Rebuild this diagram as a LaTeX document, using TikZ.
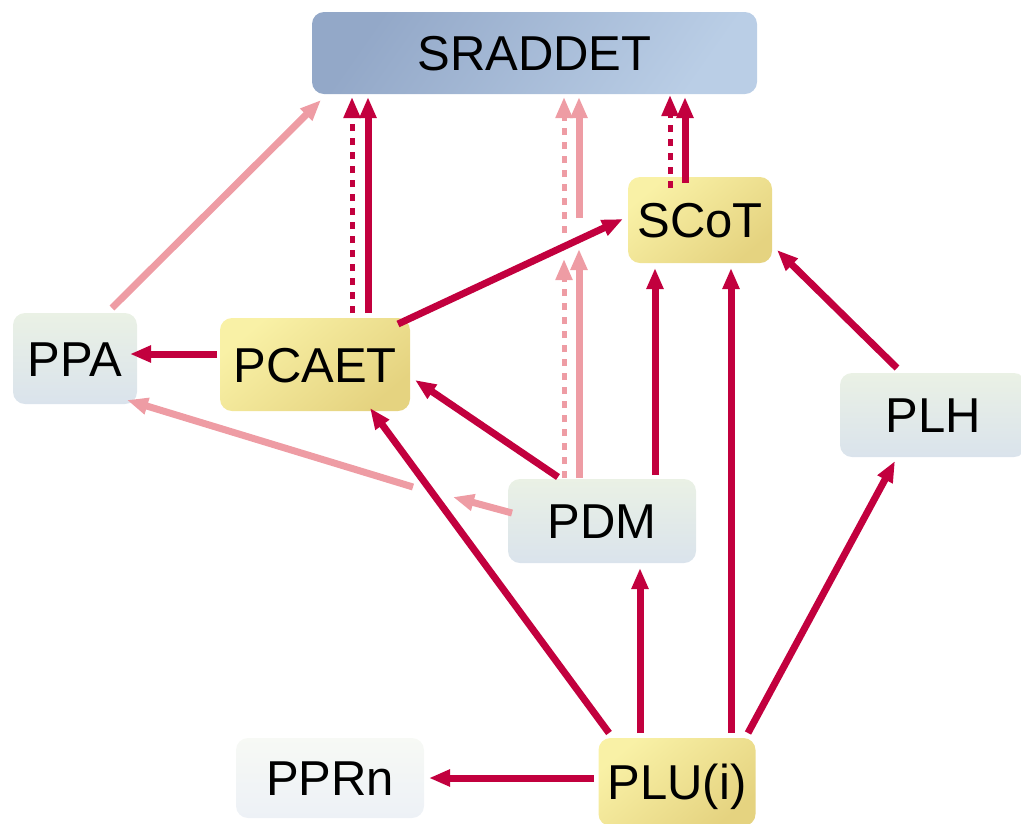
\documentclass[tikz,border=0pt]{standalone}
\usepackage{fontspec}
\setmainfont{Liberation Sans}
\usetikzlibrary{arrows.meta,calc}

\definecolor{crimson}{RGB}{194,0,62}
\definecolor{rose}{RGB}{238,156,164}
\definecolor{blueA}{RGB}{147,168,200}
\definecolor{blueB}{RGB}{186,206,230}
\definecolor{yelA}{RGB}{249,241,166}
\definecolor{yelB}{RGB}{229,211,128}
\definecolor{greyA}{RGB}{234,241,229}
\definecolor{greyB}{RGB}{218,227,236}
\definecolor{paleA}{RGB}{247,249,245}
\definecolor{paleB}{RGB}{237,241,246}

\tikzset{
  box/.style={rectangle, rounded corners=12pt, inner sep=0pt,
    font=\fontsize{49pt}{58pt}\selectfont, text height=35.5pt, text depth=0pt},
  bluebox/.style={box, top color=blueA, bottom color=blueB, shading angle=55},
  yellowbox/.style={box, top color=yelA, bottom color=yelB, shading angle=40},
  greybox/.style={box, top color=greyA, bottom color=greyB},
  palebox/.style={box, top color=paleA, bottom color=paleB},
  tip/.style={-{Triangle[length=21pt,width=16pt]}},
  link/.style={tip, draw=crimson, line width=7pt},
  linkdash/.style={tip, draw=crimson, line width=5pt, dash pattern=on 7pt off 7pt},
  soft/.style={tip, draw=rose, line width=7pt},
  softdash/.style={tip, draw=rose, line width=5pt, dash pattern=on 7pt off 7pt},
}

\begin{document}
\begin{tikzpicture}[x=1pt,y=-1pt]
  \useasboundingbox (0,0) rectangle (1021,823);
  \clip (0,0) rectangle (1021,823);

  % documents
  \node[bluebox,   minimum width=445pt, minimum height=82pt] (sraddet) at (534.5,53)  {SRADDET};
  \node[yellowbox, minimum width=144pt, minimum height=86pt] (scot)    at (700,220)   {SCoT};
  \node[greybox,   minimum width=124pt, minimum height=91pt] (ppa)     at (75,358.5)  {PPA};
  \node[yellowbox, minimum width=190pt, minimum height=93pt] (pcaet)   at (315,364.5) {PCAET};
  \node[greybox,   minimum width=186pt, minimum height=84pt] (plh)     at (933,415)   {PLH};
  \node[greybox,   minimum width=188pt, minimum height=84pt] (pdm)     at (602,521)   {PDM};
  \node[palebox,   minimum width=188pt, minimum height=80pt] (pprn)    at (330,778)   {PPRn};
  \node[yellowbox, minimum width=157pt, minimum height=88pt] (plu)     at (677,782)   {PLU(i)};

  % break points where the PDM links pass behind other links
  \coordinate (ppaGapEnd)   at (453,497);
  \coordinate (ppaGapStart) at (413,487);
  \coordinate (dashGapEnd)   at (564,259);
  \coordinate (dashGapStart) at (564,233);
  \coordinate (lineGapEnd)   at (579,249);
  \coordinate (lineGapStart) at (579,218);

  % links towards SRADDET
  \draw[soft] ([shift={(37,-50.5)}]ppa.center) -- ([shift={(-213.5,47)}]sraddet.center);
  \draw[linkdash] ([shift={(37,-51.5)}]pcaet.center) -- ([shift={(-182.5,44)}]sraddet.center);
  \draw[link] ([shift={(53,-51.5)}]pcaet.center) -- ([shift={(-166.5,44)}]sraddet.center);
  \draw[linkdash] ([shift={(-30,-32)}]scot.center) -- ([shift={(135.5,42)}]sraddet.center);
  \draw[link] ([shift={(-15,-37)}]scot.center) -- ([shift={(150.5,44)}]sraddet.center);

  % PDM towards SRADDET, interrupted
  \draw[softdash] ([shift={(-38,-43)}]pdm.center) -- (dashGapEnd);
  \draw[softdash] (dashGapStart) -- ([shift={(29.5,44)}]sraddet.center);
  \draw[soft] ([shift={(-23,-43)}]pdm.center) -- (lineGapEnd);
  \draw[soft] (lineGapStart) -- ([shift={(44.5,44)}]sraddet.center);

  % PDM towards PPA, interrupted
  \draw[soft] ([shift={(-90,-8)}]pdm.center) -- (ppaGapEnd);
  \draw[soft] (ppaGapStart) -- ([shift={(52,41.5)}]ppa.center);

  % remaining links
  \draw[link] ([shift={(83,-40.5)}]pcaet.center) -- ([shift={(-77,-1)}]scot.center);
  \draw[link] ([shift={(-98,-10.5)}]pcaet.center) -- ([shift={(55,-4.5)}]ppa.center);
  \draw[link] ([shift={(-44,-44)}]pdm.center) -- ([shift={(100,15.5)}]pcaet.center);
  \draw[link] ([shift={(53,-46)}]pdm.center) -- ([shift={(-45,48)}]scot.center);
  \draw[link] ([shift={(54,-49)}]plu.center) -- ([shift={(31,48)}]scot.center);
  \draw[link] ([shift={(-36,-47)}]plh.center) -- ([shift={(77,30)}]scot.center);
  \draw[link] ([shift={(71,-49)}]plu.center) -- ([shift={(-38,46)}]plh.center);
  \draw[link] ([shift={(-37,-49)}]plu.center) -- ([shift={(38,47)}]pdm.center);
  \draw[link] ([shift={(-68,-49)}]plu.center) -- ([shift={(55,43.5)}]pcaet.center);
  \draw[link] ([shift={(-83,-4)}]plu.center) -- ([shift={(99,0)}]pprn.center);
\end{tikzpicture}
\end{document}
